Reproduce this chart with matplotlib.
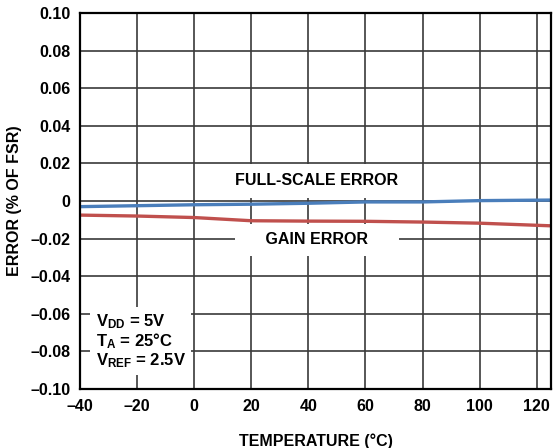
import matplotlib
matplotlib.use("Agg")
import matplotlib.pyplot as plt
import numpy as np

plt.rcParams['font.family'] = ['Liberation Sans', 'DejaVu Sans']
plt.rcParams['font.weight'] = 'bold'
plt.rcParams['mathtext.fontset'] = 'custom'
plt.rcParams['mathtext.rm'] = 'Liberation Sans:bold'
plt.rcParams['mathtext.bf'] = 'Liberation Sans:bold'
plt.rcParams['mathtext.it'] = 'Liberation Sans:bold'

# temperature (degC) and error (% of FSR)
temp = [-40, -20, 0, 20, 40, 60, 80, 100, 125]
full_scale_err = [-0.0030, -0.0025, -0.0020, -0.0017, -0.0012, -0.0005, -0.0005, 0.0002, 0.0005]
gain_err = [-0.0075, -0.0080, -0.0088, -0.0105, -0.0107, -0.0108, -0.0112, -0.0118, -0.0132]

xticks = [-40, -20, 0, 20, 40, 60, 80, 100, 120]
yticks = [0.10, 0.08, 0.06, 0.04, 0.02, 0, -0.02, -0.04, -0.06, -0.08, -0.10]


def fmt(v, dec):
    s = "0" if v == 0 else f"{abs(v):.{dec}f}"
    return ("\u2013" + s) if v < 0 else s


fig = plt.figure(figsize=(5.59, 4.48), dpi=100)
ax = fig.add_axes([80 / 559, 59 / 448, 471 / 559, 376 / 448])

ax.plot(temp, full_scale_err, color='#4a7ebb', lw=2.4, zorder=3)
ax.plot(temp, gain_err, color='#c0504d', lw=2.4, zorder=3)

ax.set_xlim(-40, 125)
ax.set_ylim(-0.10, 0.10)
ax.set_xticks(xticks)
ax.set_xticklabels([fmt(v, 0) for v in xticks])
ax.set_yticks(yticks)
ax.set_yticklabels([fmt(v, 2) for v in yticks])
ax.tick_params(length=0, labelsize=11.5, pad=7)
ax.grid(True, color='#3a3a3a', lw=1.2)
ax.set_axisbelow(True)
for sp in ax.spines.values():
    sp.set_linewidth(1.6)
    sp.set_zorder(5)

ax.set_xlabel("TEMPERATURE (°C)", fontsize=11.5, fontweight='bold', labelpad=14)
ax.set_ylabel("ERROR (% OF FSR)", fontsize=11.5, fontweight='bold', labelpad=6)

ax.text(43, 0.0107, "FULL-SCALE ERROR", ha='center', va='center',
        fontsize=11.5, fontweight='bold',
        bbox=dict(facecolor='white', edgecolor='none', pad=7), zorder=4)
ax.text(43, -0.0207, "     GAIN ERROR     ", ha='center', va='center',
        fontsize=11.5, fontweight='bold',
        bbox=dict(facecolor='white', edgecolor='none', pad=6), zorder=4)

ax.text(-34.5, -0.0745,
        r"$\mathrm{V_{DD}}$ = 5V" + "\n" + r"$\mathrm{T_A}$ = 25°C" + "\n" + r"$\mathrm{V_{REF}}$ = 2.5V",
        ha='left', va='center', fontsize=12, fontweight='bold', linespacing=1.0,
        bbox=dict(facecolor='white', edgecolor='none', pad=4), zorder=4)

fig.savefig("out.png", dpi=100)
